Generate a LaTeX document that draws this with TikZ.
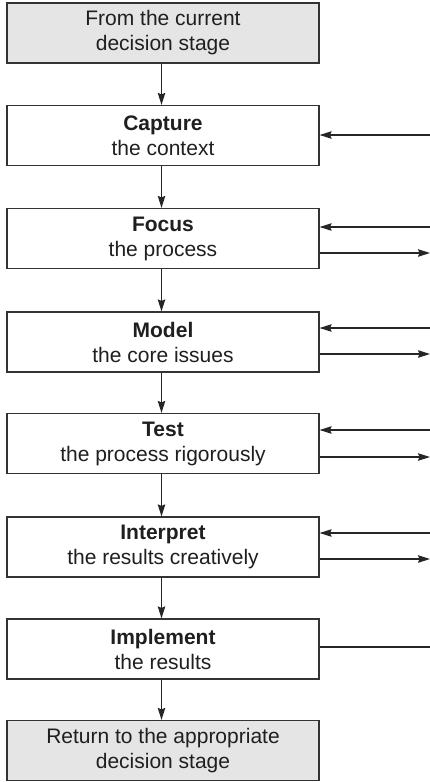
\documentclass[tikz,border=0pt]{standalone}
\usepackage{fontspec}
\setmainfont{Liberation Sans}
\usetikzlibrary{arrows.meta}
\begin{document}
\begin{tikzpicture}[x=1pt,y=1pt,
  line width=1.2pt,
  every node/.style={text=black!88},
  stage/.style={draw=black!80, fill=white, minimum width=312pt, minimum height=60pt,
    inner sep=0pt, align=center, font=\fontsize{21}{25}\selectfont},
  endbox/.style={stage, fill=black!10},
  arr/.style={draw=black!85, -{Stealth[length=12pt,width=7.5pt,inset=1.5pt]}},
  feed/.style={draw=black!85}]
\useasboundingbox (0,0) rectangle (430,-782);

% main chain of stages
\node[endbox] (from) at (163,-33)    {From the current\\decision stage};
\node[stage]  (cap)  at (163,-135.5) {\textbf{Capture}\\the context};
\node[stage]  (foc)  at (163,-238.5) {\textbf{Focus}\\the process};
\node[stage]  (mod)  at (163,-342)   {\textbf{Model}\\the core issues};
\node[stage]  (tst)  at (163,-443.5) {\textbf{Test}\\the process rigorously};
\node[stage]  (int)  at (163,-547)   {\textbf{Interpret}\\the results creatively};
\node[stage]  (imp)  at (163,-649)   {\textbf{Implement}\\the results};
\node[endbox] (ret)  at (163,-750.5) {Return to the appropriate\\decision stage};

% vertical flow
\foreach \a/\b in {from/cap, cap/foc, foc/mod, mod/tst, tst/int, int/imp, imp/ret}
  \draw[arr] ([xshift=-1.5pt]\a.south) -- ([xshift=-1.5pt]\b.north);

% free ends of the side links at the right edge
\coordinate (capin) at (430,-135);
\coordinate (focin) at (430,-227);  \coordinate (focout) at (430,-253);
\coordinate (modin) at (430,-328);  \coordinate (modout) at (430,-354);
\coordinate (tstin) at (430,-430);  \coordinate (tstout) at (430,-457);
\coordinate (intin) at (430,-533);  \coordinate (intout) at (430,-559);
\coordinate (impout) at (430,-647);

% side links
\draw[arr] (capin) -- (cap.east |- capin);
\foreach \n in {foc, mod, tst, int} {
  \draw[arr] (\n in) -- (\n.east |- \n in);
  \draw[arr] (\n.east |- \n out) -- (\n out);
}
\draw[feed] (imp.east |- impout) -- (impout);
\end{tikzpicture}
\end{document}
